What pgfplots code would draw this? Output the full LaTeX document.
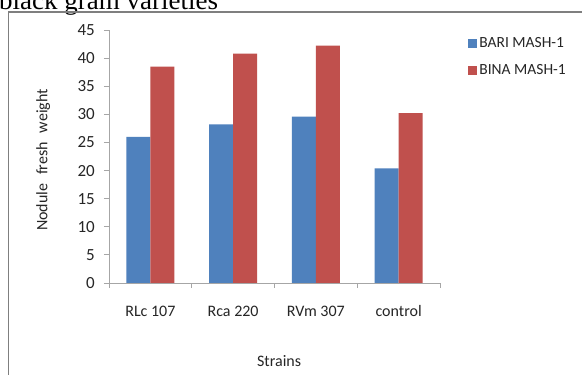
\documentclass[border=0pt]{standalone}
\usepackage{pgfplots}
\pgfplotsset{compat=1.18}
\usepackage{fontspec}
\setmainfont{Carlito}
\newfontfamily\bodyserif{Liberation Serif}

\definecolor{bariblue}{HTML}{4F81BD}
\definecolor{binared}{HTML}{C0504D}
\definecolor{axisgray}{HTML}{A6A6A6}
\definecolor{framegray}{HTML}{7F7F7F}
\definecolor{labelgray}{HTML}{262626}

\begin{document}
\begin{tikzpicture}[x=1pt,y=1pt]
\useasboundingbox (0,0) rectangle (582,375);
\begin{scope}
  \clip (0,0) rectangle (582,375);
  \fill[white] (0,0) rectangle (582,375);
  % caption line of the surrounding text, cut at the top edge
  \node[anchor=base west, inner sep=0pt, font=\bodyserif\fontsize{27}{27}\selectfont]
    at (-1,365.5) {black gram varieties};
  % chart area frame
  \draw[framegray, line width=1.4pt] (8.5,-10) rectangle (600,363);
\end{scope}

\begin{axis}[
  scale only axis,
  width=331pt, height=253pt,
  at={(109pt,92pt)}, anchor=south west,
  ybar=0pt, bar width=24pt,
  xmin=-0.5, xmax=3.5,
  ymin=0, ymax=45,
  ytick={0,5,...,45},
  xtick={0,1,2,3},
  xticklabels={RLc 107, Rca 220, RVm 307, control},
  minor xtick={-0.5,0.5,1.5,2.5,3.5},
  major x tick style={draw=none},
  tick align=outside,
  major tick length=5pt, minor tick length=5pt,
  every tick/.append style={axisgray, line width=0.8pt},
  axis x line*=bottom, axis y line*=left,
  axis line style={axisgray, line width=0.8pt},
  /pgf/number format/assume math mode=true,
  tick label style={font=\fontsize{16}{16}\selectfont, text=labelgray},
  yticklabel style={anchor=east, inner sep=0pt, xshift=-9pt, font=\fontsize{17}{17}\selectfont},
  xticklabel style={anchor=base, inner sep=0pt, yshift=-29pt},
  every axis y label/.style={at={(axis description cs:-0.199,0.486)}, rotate=90, anchor=center,
    font=\fontsize{16}{16}\selectfont, text=labelgray},
  every axis x label/.style={at={(axis description cs:0.514,-0.332)}, anchor=base,
    font=\fontsize{16}{16}\selectfont, text=labelgray},
  ylabel={Nodule\hspace{0.55em}fresh\hspace{0.55em}weight},
  xlabel={Strains},
  legend cell align=left,
  legend style={at={(axis description cs:1.085,0.894)}, anchor=west,
    draw=none, fill=none, inner sep=0pt, row sep=11pt,
    font=\fontsize{15.5}{15.5}\selectfont, text=labelgray,
    /tikz/every even column/.append style={column sep=0pt}},
  legend image code/.code={\fill[#1] (0pt,-4.5pt) rectangle (9pt,4.5pt);},
  clip=false,
]
\addplot[fill=bariblue, draw=none] coordinates {(0,26.0) (1,28.2) (2,29.6) (3,20.4)};
\addplot[fill=binared, draw=none] coordinates {(0,38.5) (1,40.8) (2,42.2) (3,30.2)};
\legend{BARI MASH-1, BINA MASH-1}
\end{axis}
\end{tikzpicture}
\end{document}
